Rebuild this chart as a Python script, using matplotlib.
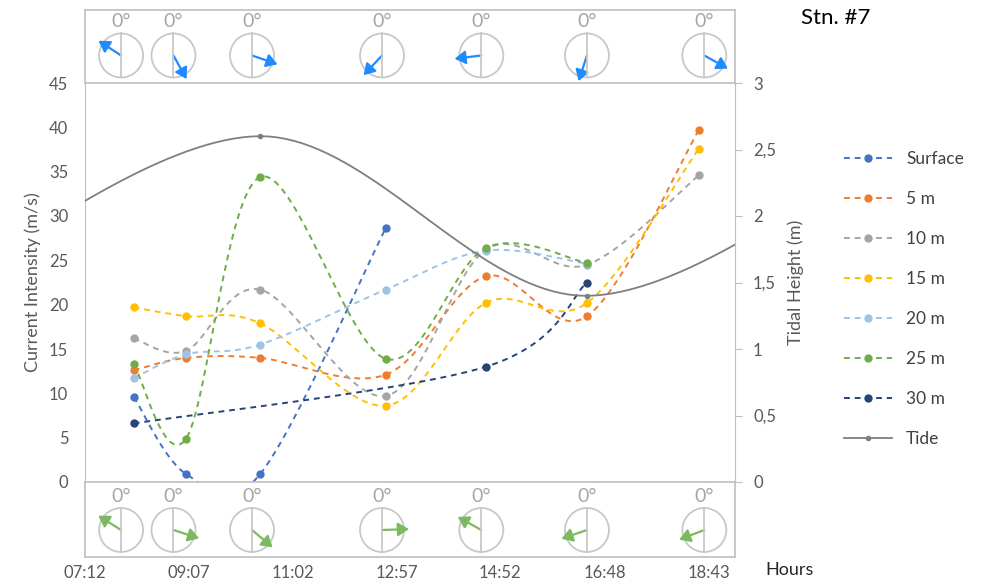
import numpy as np
import matplotlib
matplotlib.use('Agg')
import matplotlib.pyplot as plt
import matplotlib.transforms as mtransforms
from matplotlib.patches import Circle, FancyArrowPatch
from matplotlib.lines import Line2D

plt.rcParams['font.family'] = ['Lato', 'DejaVu Sans']

# sample times and current intensity (m/s) per depth
times = ['08:06', '09:04', '10:26', '12:45', '14:36', '16:28', '18:32']
nan = np.nan
surface = [9.6, 0.9, 0.9, 28.6, nan, nan, nan]
m5 = [12.6, 14.0, 14.0, 12.1, 23.2, 18.7, 39.7]
m10 = [16.2, 14.8, 21.7, 9.7, 26.2, 24.5, 34.6]
m15 = [19.7, 18.7, 17.9, 8.6, 20.2, 20.2, 37.6]
m20 = [11.7, 14.4, 15.5, 21.7, 26.1, 24.6, nan]
m25 = [13.3, 4.9, 34.4, 13.9, 26.4, 24.7, nan]
m30 = [6.6, nan, nan, nan, 13.0, 22.5, nan]

# tide (m)
tide_times = ['04:19', '10:26', '16:28', '22:34']
tide_height = [1.38, 2.6, 1.4, 2.65]

# compass directions (degrees from north)
compass_times = ['07:52', '08:50', '10:17', '12:41', '14:31', '16:28', '18:38']
dir_top = [303, 151, 109, 223, 263, 198, 119]
dir_bottom = [302, 108, 130, 88, 299, 251, 249]

tick_times = ['07:12', '09:07', '11:02', '12:57', '14:52', '16:48', '18:43']

labels = ['Surface', '5 m', '10 m', '15 m', '20 m', '25 m', '30 m']
colors = ['#4472C4', '#ED7D31', '#A5A5A5', '#FFC000', '#9DC3E6', '#70AD47', '#264478']


def to_day(s):
    h, m = s.split(':')
    return (int(h) * 60 + int(m)) / 1440.0


def smooth(x, y, n=40):
    # excel-like smoothed line (catmull-rom bezier)
    pts = np.column_stack([x, y])
    P = np.vstack([pts[0], pts, pts[-1]])
    out = []
    t = np.linspace(0, 1, n)[:, None]
    for i in range(1, len(P) - 2):
        p0, p1, p2, p3 = P[i - 1], P[i], P[i + 1], P[i + 2]
        b1 = p1 + (p2 - p0) / 6
        b2 = p2 - (p3 - p1) / 6
        seg = (1 - t)**3 * p1 + 3 * (1 - t)**2 * t * b1 + 3 * (1 - t) * t**2 * b2 + t**3 * p2
        out.append(seg)
    out = np.vstack(out)
    return out[:, 0], out[:, 1]


x = np.array([to_day(s) for s in times])
xmin, xmax = 0.3, 0.8
grey = '#BFBFBF'
txt = '#595959'

fig = plt.figure(figsize=(9.91, 5.85), dpi=100)
ax = fig.add_axes([85/991, 1 - 482/585, 650/991, 399/585])
top = fig.add_axes([85/991, 1 - 83/585, 650/991, 73/585])
bot = fig.add_axes([85/991, 1 - 557/585, 650/991, 75/585])

ax.set_xlim(xmin, xmax)
ax.set_ylim(0, 45)
ax.set_yticks(np.arange(0, 46, 5))
ax.set_xticks([])
ax.tick_params(axis='y', length=0, labelsize=12, colors=txt, pad=12)
ax.set_ylabel('Current Intensity (m/s)', color=txt, fontsize=13, labelpad=6)
for s in ['top', 'bottom', 'right']:
    ax.spines[s].set_visible(False)
ax.spines['left'].set_color(grey)

ax2 = ax.twinx()
ax2.set_ylim(0, 3)
ax2.set_yticks(np.arange(0, 3.01, 0.5))
ax2.set_yticklabels([('%g' % v).replace('.', ',') for v in np.arange(0, 3.01, 0.5)])
ax2.tick_params(axis='y', length=5, color=grey, labelsize=12, labelcolor=txt, pad=8)
ax2.set_ylabel('Tidal Height (m)', color=txt, fontsize=13, labelpad=8)
for s in ['top', 'bottom', 'left']:
    ax2.spines[s].set_visible(False)
ax2.spines['right'].set_color(grey)

handles = []
for vals, lab, c in zip([surface, m5, m10, m15, m20, m25, m30], labels, colors):
    v = np.array(vals, dtype=float)
    ok = ~np.isnan(v)
    sx, sy = smooth(x[ok], v[ok])
    ax.plot(sx, sy, color=c, lw=1.4, ls=(0, (3, 2.5)))
    ax.plot(x[ok], v[ok], 'o', color=c, ms=5, zorder=3)
    handles.append(Line2D([], [], color=c, lw=1.4, ls=(0, (3, 2.5)), marker='o', ms=5))

tx = np.array([to_day(s) for s in tide_times])
sx, sy = smooth(tx, tide_height)
ax2.plot(sx, sy, color='#7F7F7F', lw=1.3)
ax2.plot(tx, tide_height, 'o', color='#7F7F7F', ms=3)
handles.append(Line2D([], [], color='#7F7F7F', lw=1.3, marker='o', ms=3))
labels_all = labels + ['Tide']

fig.legend(handles, labels_all, loc='upper left', bbox_to_anchor=(828/991, 1 - 135/585),
           frameon=False, fontsize=12.5, labelspacing=1.385, handlelength=2.8,
           handletextpad=0.8, numpoints=1, labelcolor='#404040')

# compass panels
ctimes = [to_day(s) for s in compass_times]
for pan, dirs, cy, acol in [(top, dir_top, 0.377, '#1E8CFF'), (bot, dir_bottom, 0.36, '#7DB960')]:
    pan.set_xlim(xmin, xmax)
    pan.set_ylim(0, 1)
    pan.set_yticks([])
    for s in pan.spines.values():
        s.set_color(grey)
        s.set_linewidth(1.2)
    blend = mtransforms.blended_transform_factory(pan.transData, pan.transAxes)
    for ct, d in zip(ctimes, dirs):
        tr = fig.dpi_scale_trans + mtransforms.ScaledTranslation(ct, cy, blend)
        r = 0.22
        pan.add_patch(Circle((0, 0), r, transform=tr, fill=False, ec='#C8C8C8', lw=1.3))
        pan.add_line(Line2D([0, 0], [-r, r], transform=tr, color='#C8C8C8', lw=1.3))
        a = np.deg2rad(d)
        L = 0.27
        pan.add_patch(FancyArrowPatch((0, 0), (L * np.sin(a), L * np.cos(a)), transform=tr,
                                      arrowstyle='-|>,head_length=6.5,head_width=4',
                                      color=acol, lw=1.6, shrinkA=0, shrinkB=0))
        pan.text(0, 0.335, '0°', transform=tr, ha='center', va='center', fontsize=14, color='#A6A6A6')

top.set_xticks([])
bot.set_xticks([to_day(s) for s in tick_times])
bot.set_xticklabels(tick_times)
bot.tick_params(axis='x', length=0, labelsize=12, colors=txt, pad=6)

fig.text(790/991, 1 - 570/585, 'Hours', ha='center', va='center', fontsize=13, color='#262626')
fig.text(836/991, 1 - 18/585, 'Stn. #7', ha='center', va='center', fontsize=16, color='black')

fig.savefig('out.png', dpi=100)
